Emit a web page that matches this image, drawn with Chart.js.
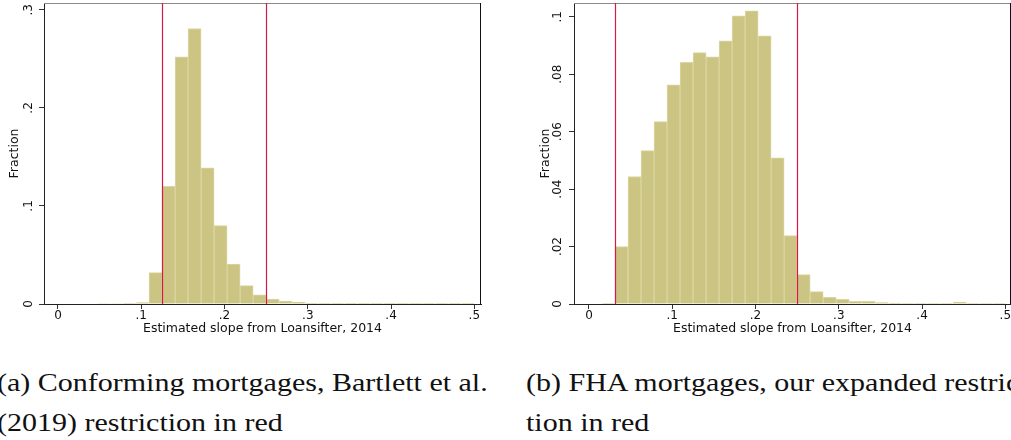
<!DOCTYPE html>
<html lang="en">
<head>
  <meta charset="UTF-8">
  <title>Estimated slope histograms</title>
  <style>
    html, body {
      margin: 0;
      padding: 0;
      background: #fff;
      width: 1011px;
      height: 440px;
      overflow: hidden;
      position: relative;
    }
    canvas {
      position: absolute;
      top: 0;
    }
    #chartA { left: 0; }
    #chartB { left: 520px; }
    .cap {
      position: absolute;
      font-family: 'Liberation Serif', serif;
      font-size: 25px;
      line-height: 40px;
      color: #111;
      white-space: nowrap;
      transform: scaleX(1.2);
      transform-origin: 0 0;
    }
  </style>
</head>
<body>
  <canvas id="chartA" width="500" height="345"></canvas>
  <canvas id="chartB" width="500" height="345"></canvas>
  <div class="cap" style="left:-3px; top:363px">(a) Conforming mortgages, Bartlett et al.<br>(2019) restriction in red</div>
  <div class="cap" style="left:526px; top:363px">(b) FHA mortgages, our expanded restric-<br>tion in red</div>

  <script src="https://cdn.jsdelivr.net/npm/chart.js"></script>
  <script>
    // histogram bins of width 1/64 from 0 to .5
    const binWidth = 0.015625;
    const fracA = [null, null, null, 0.0005, 0.0005, 0.0006, 0.0015, 0.032,
                   0.120, 0.252, 0.281, 0.139, 0.080, 0.0406, 0.0188, 0.0094,
                   0.0050, 0.0031, 0.0018, 0.0008, 0.0008, 0.0007, 0.0007, 0.0003,
                   0.0003, 0.0003, 0.0003, 0.0003, 0.0003, 0.0003, 0.0003, 0.0003];
    const fracB = [null, 0.0002, 0.0200, 0.0444, 0.0534, 0.0635, 0.0763, 0.0841,
                   0.0875, 0.0861, 0.0916, 0.1003, 0.1021, 0.0934, 0.0509, 0.0238,
                   0.0102, 0.0043, 0.0023, 0.0016, 0.0009, 0.0009, 0.0005, 0.0003,
                   0.0002, 0.0002, 0.0002, 0.0002, 0.0006, 0.0002, 0.0002, 0.0002];
    const cutoffsA = [0.125, 0.25];
    const cutoffsB = [0.03125, 0.25];
    const xTicks = [0, 0.1, 0.2, 0.3, 0.4, 0.5];
    const yTicksA = [0, 0.1, 0.2, 0.3];
    const yTicksB = [0, 0.02, 0.04, 0.06, 0.08, 0.1];
    const xTitle = 'Estimated slope from Loansifter, 2014';
    const yTitle = 'Fraction';

    const fontTick = { family: "'DejaVu Sans', sans-serif", size: 12 };
    const fontTitle = { family: "'DejaVu Sans', sans-serif", size: 12.5 };

    function stataLabel(v) {
      if (v === 0) return '0';
      return String(+v.toFixed(3)).replace(/^0/, '');
    }

    // red restriction lines + top/right frame
    const framePlugin = {
      id: 'frame',
      afterDatasetsDraw(chart, args, opts) {
        const { ctx, chartArea: a, scales: { x } } = chart;
        ctx.save();
        ctx.lineWidth = 1;
        ctx.strokeStyle = '#8a8a8a';
        ctx.beginPath();
        ctx.moveTo(a.left, a.top + 0.5);
        ctx.lineTo(a.right, a.top + 0.5);
        ctx.stroke();
        ctx.strokeStyle = '#111';
        ctx.beginPath();
        ctx.moveTo(a.right - 0.5, a.top);
        ctx.lineTo(a.right - 0.5, a.bottom);
        ctx.stroke();
        ctx.strokeStyle = '#d8174b';
        ctx.lineWidth = 1.2;
        opts.cutoffs.forEach(c => {
          const px = Math.round(x.getPixelForValue(c)) + 0.5;
          ctx.beginPath();
          ctx.moveTo(px, a.top);
          ctx.lineTo(px, a.bottom);
          ctx.stroke();
        });
        ctx.restore();
      }
    };

    function drawHist(id, frac, cutoffs, yTicks, opt) {
      const points = [];
      frac.forEach((y, i) => {
        if (y !== null) points.push({ x: (i + 0.5) * binWidth, y: y });
      });
      return new Chart(document.getElementById(id), {
        type: 'bar',
        data: {
          datasets: [{
            data: points,
            backgroundColor: '#cbc482',
            borderColor: '#dcd7a2',
            borderWidth: 1,
            barPercentage: 1,
            categoryPercentage: 1
          }]
        },
        plugins: [framePlugin],
        options: {
          responsive: false,
          animation: false,
          layout: { padding: { left: 0, top: 3, right: opt.padRight, bottom: 0 } },
          plugins: {
            legend: { display: false },
            tooltip: { enabled: false },
            frame: { cutoffs: cutoffs }
          },
          scales: {
            x: {
              type: 'linear',
              offset: false,
              min: opt.xMin,
              max: opt.xMax,
              afterBuildTicks: s => { s.ticks = xTicks.map(v => ({ value: v })); },
              afterFit: s => {
                s.height = 41;
                s.paddingLeft = 0; s.paddingRight = 0;
              },
              grid: { offset: false, drawOnChartArea: false, drawTicks: true, tickLength: 5, tickColor: '#333' },
              border: { display: true, color: '#222', width: 1 },
              ticks: {
                font: fontTick, color: '#111', padding: 0,
                maxRotation: 0, autoSkip: false,
                callback: v => stataLabel(v)
              },
              title: {
                display: true, text: xTitle, font: fontTitle, color: '#111',
                padding: { top: 0, bottom: 8.5 }
              }
            },
            y: {
              type: 'linear',
              min: 0,
              max: opt.yMax,
              afterBuildTicks: s => { s.ticks = yTicks.map(v => ({ value: v })); },
              afterFit: s => {
                s.width = opt.yWidth;
                s.paddingTop = 0; s.paddingBottom = 0;
              },
              grid: { drawOnChartArea: false, drawTicks: true, tickLength: 5, tickColor: '#333' },
              border: { display: true, color: '#222', width: 1 },
              ticks: {
                font: fontTick, color: '#111', padding: opt.yPad,
                minRotation: 90, maxRotation: 90, crossAlign: 'center',
                autoSkip: false,
                callback: v => stataLabel(v)
              },
              title: {
                display: true, text: yTitle, font: fontTitle, color: '#111',
                padding: { top: opt.yTitlePad, bottom: 0 }
              }
            }
          }
        }
      });
    }

    drawHist('chartA', fracA, cutoffsA, yTicksA,
      { xMin: -0.0168, xMax: 0.508, yMax: 0.307, padRight: 19, yWidth: 44, yPad: 4.25, yTitlePad: 7.2 });
    drawHist('chartB', fracB, cutoffsB, yTicksB,
      { xMin: -0.018, xMax: 0.5068, yMax: 0.1048, padRight: 9, yWidth: 54, yPad: 1.8, yTitlePad: 18.2 });
  </script>
</body>
</html>
